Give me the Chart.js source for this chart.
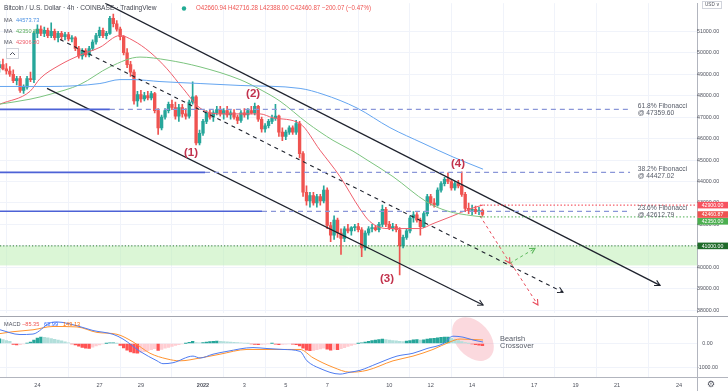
<!DOCTYPE html>
<html><head><meta charset="utf-8">
<script src="https://cdn.jsdelivr.net/npm/chart.js"></script>
<style>
html,body{margin:0;padding:0;background:#fff;overflow:hidden}
#wrap{position:relative;width:728px;height:391px;background:#fff}
#main{position:absolute;left:0;top:0}
#macd{position:absolute;left:0;top:316px}
</style></head><body>
<div id="wrap"><canvas id="main" width="728" height="316"></canvas><canvas id="macd" width="728" height="75"></canvas></div>
<script>
// ---------- DATA ----------
// x values are days from 2022-01-01 00:00 (UTC); first 4h candle is 22 Dec 2021 04:00
const dayTicks = [-8,-5,-3,0,2,4,6,9,11,13,16,18,20,23];
const dayLabels = ['24','27','29','2022','3','5','7','10','12','14','17','19','21','24'];
const priceTicks = [38000,39000,40000,41000,42000,43000,44000,45000,46000,47000,48000,49000,50000,51000];
const macdTicks = [0,-1000];
const firstCandleDay = -9.8333;
const candleStepDays = 4/24;
// [open, high, low, close]
const ohlc = [
[49300,49600,49100,49450],[49450,49700,49200,49250],[49250,49500,49000,49150],[49150,49350,48900,49000],
[49000,49200,48600,48700],[48700,48900,48500,48800],[48800,48900,48150,48250],[48250,48500,48100,48400],
[48400,48900,48300,48800],[48800,49100,48650,48750],[48750,51000,48600,50900],[50900,51300,50700,51100],
[51100,51250,50800,50900],[50900,51200,50750,51050],[51050,51150,50700,50800],[50800,51400,50700,51000],
[51000,51100,50600,50700],[50700,51000,50500,50900],[50900,51000,50600,50750],[50750,50950,50600,50850],
[50850,50950,50550,50650],[50650,50800,50500,50700],[50700,50750,50100,50200],[50200,50300,49750,49850],
[49850,50200,49700,50100],[50100,50200,49800,49900],[49900,50300,49800,50200],[50200,50600,50100,50500],
[50500,50900,50400,50800],[50800,51200,50700,51050],[51050,51150,50700,50800],[50800,51000,50650,50900],
[50900,51700,50850,51600],[51600,51800,51200,51350],[51350,51500,51000,51100],[51100,51200,50600,50750],
[50750,50800,49900,50000],[50000,50200,49300,49450],[49450,49600,48900,49100],[49100,49200,47600,47750],
[47750,48200,47500,48050],[48050,48250,47700,47850],[47850,48150,47750,48000],[48000,48200,47800,47900],
[47900,48200,47800,48100],[48100,48150,47200,47300],[47300,47400,46200,46500],[46500,47100,46400,47000],
[47000,47400,46900,47300],[47300,47700,47200,47600],[47600,47800,47350,47450],[47450,47700,46900,47050],
[47050,47600,46800,47450],[47450,47600,47000,47150],[47150,47400,46900,47050],[47050,47800,46950,47700],
[47700,48650,47600,47950],[47950,48000,45700,45800],[45800,46400,45700,46250],[46250,46900,46150,46800],
[46800,47300,46700,47200],[47200,47350,46900,47000],[47000,47300,46800,47200],[47200,47500,47100,47350],
[47350,47500,47050,47150],[47150,47400,46900,47300],[47300,47500,47000,47100],[47100,47300,46900,47200],
[47200,47350,46900,47000],[47000,47100,46700,46850],[46850,47300,46750,47200],[47200,47400,47000,47100],
[47100,47400,46900,47300],[47300,47500,47150,47200],[47200,47650,47100,47500],[47500,47550,46800,46900],
[46900,47000,46300,46450],[46450,46700,46300,46600],[46600,46900,46500,46800],[46800,47100,46700,46950],
[46950,47600,46850,47050],[47050,47100,46100,46300],[46300,46500,45900,46100],[46100,46400,45950,46300],
[46300,46600,46200,46500],[46500,46600,46200,46300],[46300,46850,46200,46700],[46700,46800,45100,45300],
[45300,45400,43300,43500],[43500,43800,42900,43100],[43100,43500,42800,43350],[43350,43500,42900,43000],
[43000,43400,42800,43300],[43300,43400,42900,43100],[43100,43800,43000,43600],[43600,43700,41800,41950],
[41950,42100,41200,41500],[41500,42400,41300,42200],[42200,42300,41400,41600],[41600,41800,40600,41350],
[41350,41900,41200,41800],[41800,42000,41600,41700],[41700,41900,41500,41850],[41850,42000,41700,41900],
[41900,42050,41650,41750],[41750,41850,40500,40900],[40900,41700,40800,41600],[41600,41900,41500,41800],
[41800,42000,41650,41850],[41850,41950,41700,41750],[41750,42100,41650,42000],[42000,42900,41900,42700],
[42700,42800,41900,42000],[42000,42150,41750,41850],[41850,42050,41700,41900],[41900,42000,41650,41750],
[41750,41850,39650,41000],[41000,41500,40900,41400],[41400,41800,41300,41700],[41700,42400,41600,42300],
[42300,42600,42100,42450],[42450,42550,42100,42200],[42200,42300,41500,41900],[41900,42600,41850,42500],
[42500,43400,42400,43300],[43300,43400,42900,43000],[43000,43200,42800,42900],[42900,43700,42850,43600],
[43600,44000,43500,43900],[43900,44200,43800,44100],[44100,44400,43900,44000],[44000,44100,43600,43700],
[43700,44000,43600,43900],[43900,44050,43700,43800],[43800,44450,43300,43400],[43400,43500,42600,42750],
[42750,43000,42500,42650],[42650,42900,42450,42700],[42700,42850,42500,42600],[42600,42800,42450,42660.94],
[42660.94,42716.28,42388.00,42460.87]
];
// moving averages [day, price]
const maBlue = [[-9.807,48429],[-7.39,48429],[-4.98,48566],[-4.01,48749],[-3.38,48749],[-2.08,48658],[-0.14,48566],[1.79,48475],[4.69,48338],[5.80,48064],[7.44,47425],[9.03,46511],[10.63,45781],[12.08,45142],[13.53,44573.73]];
const maGreen = [[-9.807,47607],[-8.357,47836],[-7.391,48064],[-5.942,48521],[-4.493,49342],[-3.043,49799],[-1.739,49662],[-0.145,49342],[1.787,48749],[2.754,48292],[3.720,47744],[5.024,46740],[6.280,45918],[7.246,45416],[7.923,45005],[9.179,44228],[10.821,43041],[11.787,42630],[13.043,42402],[13.53,42350.87]];
const maRed = [[-9.807,47607],[-8.357,48201],[-7.874,48795],[-6.908,49434],[-5.942,49890],[-4.976,50256],[-4.010,50804],[-3.382,50575],[-2.560,50027],[-1.739,49251],[-0.966,48338],[-0.145,47425],[0.821,47151],[1.787,47151],[2.754,47151],[3.382,46968],[4.686,46694],[5.652,45461],[6.618,44228],[7.585,42722],[8.068,42128],[8.889,41808],[9.855,41808],[10.483,41808],[11.111,42037],[12.077,42402],[12.899,42722],[13.53,42906.30]];
const maValues = [44573.73, 42350.87, 42906.30];
// drawings [day, price]
const upperChannel = [[-4.73,52310],[22.08,39160]];
const lowerChannel = [[-7.536,48338],[13.53,38247]];
const midChannel = [[-6.908,50621],[17.39,38840]];
const projDown1 = [[13.38,42402],[14.83,40192]];
const projUp = [[14.83,40192],[16.04,40886]];
const projDown2 = [[14.88,40192],[16.18,38247]];
const fibPrices = [47359.60, 44427.02, 42612.79];
const fibNames = ['61.8% Fibonacci','38.2% Fibonacci','23.6% Fibonacci'];
const fibSolidEnd = [-4.5, 0.1, 2.85];
const fibDashEnd = 20.63;
const fibLabelDay = 21.0;
const supportZone = [40090, 41000];
const resistLevel = 42900, ma50Level = 42350, supportLevel = 41000;
const dottedFrom = 13.38;
const waveLabels = ['(1)','(2)','(3)','(4)'];
const waveX = [-0.58, 2.42, 8.89, 12.32];
const waveY = [45324, 48087, 39479, 44845];
const tagPrices = [42900, 42460.87, 42350, 41000];
const tagTexts = ['42900.00','42460.87','42350.00','41000.00'];
const tagColors = ['#f7525f','#ef5350','#4caf50','#1f6b2a'];
// MACD [day, value]
const macdLine = [[-9.807,580],[-8.841,380],[-8.213,400],[-7.391,870],[-7.053,910],[-6.087,750],[-5.314,550],[-4.348,390],[-3.865,190],[-3.043,-330],[-2.222,-730],[-1.932,-850],[-1.449,-810],[-0.483,-530],[-0.145,-610],[0.483,-450],[1.159,-330],[2.415,-170],[3.092,-210],[3.865,-250],[4.686,-330],[5.024,-730],[5.652,-1050],[6.618,-1290],[7.101,-1210],[7.585,-1130],[8.406,-850],[9.372,-530],[10.145,-410],[10.821,-210],[11.594,-10],[12.077,310],[12.560,270],[13.043,150],[13.53,63.99]];
const signalLine = [[-9.807,420],[-9.179,500],[-8.213,580],[-7.246,720],[-6.087,700],[-5.121,470],[-4.155,390],[-3.382,70],[-2.560,-410],[-1.739,-650],[-1.111,-730],[-0.145,-610],[0.821,-450],[2.126,-250],[3.092,-250],[4.686,-250],[5.314,-600],[6.280,-1000],[7.101,-1210],[7.923,-1130],[9.179,-730],[10.145,-530],[11.111,-250],[11.932,70],[12.415,190],[13.53,149.13]];
const macdHist = [200,170,130,90,-40,-60,-50,-20,20,60,150,230,270,260,240,210,180,150,110,70,30,-20,-60,-110,-160,-200,-210,-150,-100,-60,-20,5,25,30,10,-80,-180,-280,-350,-400,-410,-380,-340,-300,-260,-220,-290,-250,-200,-160,-120,-80,-50,-20,5,50,90,40,30,45,60,80,90,100,90,80,70,60,50,40,30,20,5,-20,-40,-50,-40,-30,-10,10,-30,-50,-40,-30,-20,-30,-50,-100,-200,-280,-300,-290,-260,-230,-200,-240,-280,-250,-260,-220,-170,-120,-80,-40,10,30,60,90,120,150,170,190,170,150,130,110,90,80,100,130,160,170,150,160,190,210,220,240,260,270,270,230,180,130,80,40,10,-20,-45,-65,-85.35];
const macdLegend = [-85.35, 63.99, 149.13];

// ---------- LAYOUT / STYLE ----------
const FONT = "'Liberation Sans', Arial, sans-serif";
const X_MIN = -9.807, X_MAX = 23.865;
const P_MIN = 37881, P_MAX = 52310;
const M_MIN = -1412, M_MAX = 1028;
const UP = '#26a69a', DOWN = '#ef5350';
const GRID = '#f0f3fa', AXIS = '#b2b5be', TXT = '#50535e';

const candleX = ohlc.map((c,i) => firstCandleDay + i*candleStepDays);
const candleColor = ohlc.map(c => c[3] >= c[0] ? UP : DOWN);
const pt = a => a.map(p => ({x:p[0], y:p[1]}));
const seg = (a, color, w, dash, extra) => Object.assign({type:'line', data:pt(a), borderColor:color, borderWidth:w, borderDash:dash||[], pointRadius:0, fill:false, tension:0, order:1}, extra||{});
const maDs = (a, color) => ({type:'line', data:pt(a), borderColor:color, borderWidth:1, pointRadius:0, fill:false, cubicInterpolationMode:'monotone', order:5});

function drawArrow(ctx, x0, y0, x1, y1, color, len, width){
  const ang = Math.atan2(y1-y0, x1-x0);
  ctx.save(); ctx.setLineDash([]); ctx.strokeStyle = color; ctx.lineWidth = width;
  ctx.beginPath();
  ctx.moveTo(x1 - len*Math.cos(ang-0.5), y1 - len*Math.sin(ang-0.5));
  ctx.lineTo(x1, y1);
  ctx.lineTo(x1 - len*Math.cos(ang+0.5), y1 - len*Math.sin(ang+0.5));
  ctx.stroke(); ctx.restore();
}

const datasets = [
  {type:'bar', data: ohlc.map((c,i)=>({x:candleX[i], y:[c[2], c[1]]})), backgroundColor:candleColor, barThickness:1, grouped:false, order:11},
  {type:'bar', data: ohlc.map((c,i)=>({x:candleX[i], y:[Math.min(c[0],c[3]), Math.max(c[0],c[3])]})), backgroundColor:candleColor, barThickness:2.7, grouped:false, order:10},
  maDs(maBlue, '#64a5f0'),
  maDs(maGreen, '#7cc47f'),
  maDs(maRed, '#ef5f6c')
];
fibPrices.forEach((p,i) => {
  datasets.push(seg([[X_MIN,p],[fibSolidEnd[i],p]], '#4d62d6', 1.6));
  datasets.push(seg([[fibSolidEnd[i],p],[fibDashEnd,p]], '#8a96d8', 1.2, [5,4]));
});
datasets.push(seg([[dottedFrom,resistLevel],[X_MAX,resistLevel]], '#f23645', 1, [1.5,2]));
datasets.push(seg([[dottedFrom,ma50Level],[X_MAX,ma50Level]], '#4caf50', 1, [1.5,2]));
datasets.push(seg([[X_MIN,supportLevel],[X_MAX,supportLevel]], '#2e7d32', 1, [1.2,2]));
datasets.push(seg(upperChannel, '#1e222d', 1.3, [], {arrow:true}));
datasets.push(seg(lowerChannel, '#1e222d', 1.3, [], {arrow:true}));
datasets.push(seg(midChannel, '#1e222d', 1.1, [4,4], {arrow:true}));
datasets.push(seg(projDown1, '#e84a5a', 1, [3,3], {arrow:true}));
datasets.push(seg(projUp, '#5cb85c', 1, [3,3], {arrow:true}));
datasets.push(seg(projDown2, '#e84a5a', 1, [3,3], {arrow:true}));

const mainPlugin = {
  id:'mainDecor',
  beforeDatasetsDraw(chart){
    const {ctx, chartArea:a, scales:{y}} = chart;
    const yt = y.getPixelForValue(supportZone[1]), yb = y.getPixelForValue(supportZone[0]);
    ctx.save(); ctx.fillStyle = 'rgba(190,238,180,0.55)';
    ctx.fillRect(a.left, yt, a.right-a.left, yb-yt); ctx.restore();
  },
  afterDatasetsDraw(chart){
    const {ctx, scales:{x,y}} = chart;
    chart.data.datasets.forEach((ds,i) => {
      if (!ds.arrow) return;
      const pts = chart.getDatasetMeta(i).data;
      const A = pts[pts.length-2], B = pts[pts.length-1];
      drawArrow(ctx, A.x, A.y, B.x, B.y, ds.borderColor, 6, 1.1);
    });
    ctx.save();
    ctx.font = `bold 11.5px ${FONT}`; ctx.fillStyle = '#c2334d'; ctx.textAlign = 'center'; ctx.textBaseline = 'middle';
    waveLabels.forEach((t,i) => ctx.fillText(t, x.getPixelForValue(waveX[i]), y.getPixelForValue(waveY[i])));
    ctx.font = `6.7px ${FONT}`; ctx.fillStyle = '#555a66'; ctx.textAlign = 'left';
    fibPrices.forEach((p,i) => {
      const py = y.getPixelForValue(p), px = x.getPixelForValue(fibLabelDay);
      ctx.fillText(fibNames[i], px, py-3.2);
      ctx.fillText('@ ' + p.toFixed(2), px, py+3.6);
    });
    ctx.restore();
  },
  afterDraw(chart){
    const {ctx, scales:{y}} = chart;
    ctx.save();
    ctx.textBaseline = 'middle'; ctx.textAlign = 'left';
    ctx.font = `6.6px ${FONT}`; ctx.fillStyle = '#434651';
    ctx.fillText('Bitcoin / U.S. Dollar · 4h · COINBASE · TradingView', 4, 8.5, 170);
    ctx.fillStyle = '#22ab94'; ctx.beginPath(); ctx.arc(184, 8.5, 2.2, 0, Math.PI*2); ctx.fill();
    const L = ohlc[ohlc.length-1], prevC = ohlc[ohlc.length-2][3];
    const ch = L[3]-prevC, pct = ch/prevC*100;
    const ohlcTxt = 'O'+L[0].toFixed(2)+' H'+L[1].toFixed(2)+' L'+L[2].toFixed(2)+' C'+L[3].toFixed(2)+' '+(ch<0?'−':'+')+Math.abs(ch).toFixed(2)+' ('+(pct<0?'−':'+')+Math.abs(pct).toFixed(2)+'%)';
    ctx.fillStyle = '#ef5350'; ctx.fillText(ohlcTxt, 196, 8.5, 175);
    const maCols = ['#4a90e2','#5cae5f','#ef5f6c'], maYs = [20, 31, 42.5];
    ctx.font = `5.6px ${FONT}`;
    maValues.forEach((v,i) => {
      ctx.fillStyle = TXT; ctx.fillText('MA', 4, maYs[i]);
      ctx.fillStyle = maCols[i]; ctx.fillText(v.toFixed(2), 16, maYs[i]);
    });
    ctx.strokeStyle = '#d1d4dc'; ctx.lineWidth = 1;
    ctx.strokeRect(6.5, 48.5, 12, 10);
    ctx.strokeStyle = '#50535e'; ctx.beginPath(); ctx.moveTo(10, 55); ctx.lineTo(12.5, 52.5); ctx.lineTo(15, 55); ctx.stroke();
    ctx.strokeStyle = '#d1d4dc'; ctx.strokeRect(702.5, 1.5, 19, 7);
    ctx.font = `4.6px ${FONT}`; ctx.fillStyle = TXT; ctx.fillText('USD ∨', 705, 5.2);
    let prev = -100;
    ctx.font = `5.2px ${FONT}`; ctx.textAlign = 'center';
    tagPrices.forEach((p,i) => {
      let py = y.getPixelForValue(p);
      if (py < prev + 6.8) py = prev + 6.8;
      prev = py;
      ctx.fillStyle = tagColors[i]; ctx.fillRect(697.5, py-3.3, 30.5, 6.6);
      ctx.fillStyle = '#ffffff'; ctx.fillText(tagTexts[i], 712.5, py+0.3);
    });
    ctx.restore();
  }
};

new Chart(document.getElementById('main'), {
  type:'bar',
  data:{datasets},
  options:{
    responsive:false, maintainAspectRatio:false, animation:false, events:[], devicePixelRatio:1,
    layout:{padding:0},
    plugins:{legend:{display:false}, tooltip:{enabled:false}},
    scales:{
      x:{type:'linear', min:X_MIN, max:X_MAX, offset:false,
         afterBuildTicks:s=>{s.ticks = dayTicks.map(v=>({value:v}));},
         ticks:{display:false}, grid:{color:GRID, drawTicks:false}, border:{display:false},
         afterFit:s=>{s.height = 0;}},
      y:{position:'right', min:P_MIN, max:P_MAX,
         afterBuildTicks:s=>{s.ticks = priceTicks.map(v=>({value:v}));},
         ticks:{callback:v=>Number(v).toFixed(2), font:{size:5.3, family:FONT}, color:TXT, crossAlign:'center', padding:0},
         grid:{color:GRID, drawTicks:false}, border:{color:AXIS},
         afterFit:s=>{s.width = 31;}}
    }
  },
  plugins:[mainPlugin]
});

// ---------- MACD ----------
const histColors = macdHist.map((v,i) => {
  const pv = i ? macdHist[i-1] : v;
  if (v >= 0) return v >= pv ? '#26a69a' : '#b2dfdb';
  return v < pv ? '#ff5252' : '#ffcdd2';
});
const macdPlugin = {
  id:'macdDecor',
  beforeDatasetsDraw(chart){
    const {ctx, scales:{x,y}} = chart;
    ctx.save();
    ctx.fillStyle = 'rgba(242,120,135,0.28)';
    ctx.beginPath();
    ctx.ellipse(x.getPixelForValue(13.04), y.getPixelForValue(190), 25, 17, 0.85, 0, Math.PI*2);
    ctx.fill(); ctx.restore();
  },
  afterDraw(chart){
    const {ctx, scales:{x,y}} = chart;
    ctx.save();
    ctx.strokeStyle = '#a3a6af'; ctx.lineWidth = 1;
    ctx.beginPath(); ctx.moveTo(0, 0.5); ctx.lineTo(728, 0.5); ctx.stroke();
    ctx.strokeStyle = AXIS;
    ctx.beginPath(); ctx.moveTo(0, 61.5); ctx.lineTo(728, 61.5); ctx.stroke();
    ctx.beginPath(); ctx.moveTo(697.5, 0); ctx.lineTo(697.5, 75); ctx.stroke();
    ctx.textBaseline = 'middle'; ctx.textAlign = 'left';
    ctx.font = `5.6px ${FONT}`;
    ctx.fillStyle = TXT; ctx.fillText('MACD', 4, 8);
    ctx.fillStyle = '#ef5350'; ctx.fillText((macdLegend[0]<0?'−':'')+Math.abs(macdLegend[0]).toFixed(2), 22, 8);
    ctx.fillStyle = '#2962ff'; ctx.fillText(macdLegend[1].toFixed(2), 44, 8);
    ctx.fillStyle = '#ff6d00'; ctx.fillText(macdLegend[2].toFixed(2), 63, 8);
    ctx.font = `7.4px ${FONT}`; ctx.fillStyle = '#555a66';
    const bx = x.getPixelForValue(14.35);
    ctx.fillText('Bearish', bx, 23);
    ctx.fillText('Crossover', bx, 30);
    ctx.font = `9px 'DejaVu Sans', sans-serif`; ctx.fillStyle = TXT; ctx.textAlign = 'center';
    ctx.fillText('⚙', 711, 68.5);
    ctx.restore();
  }
};

new Chart(document.getElementById('macd'), {
  type:'bar',
  data:{datasets:[
    {type:'line', data:pt(macdLine), borderColor:'#4f7cf0', borderWidth:1, pointRadius:0, fill:false, cubicInterpolationMode:'monotone', order:1},
    {type:'line', data:pt(signalLine), borderColor:'#ff9330', borderWidth:1, pointRadius:0, fill:false, cubicInterpolationMode:'monotone', order:2},
    {type:'bar', data:macdHist.map((v,i)=>({x:candleX[i], y:v})), backgroundColor:histColors, barThickness:2.7, grouped:false, order:5}
  ]},
  options:{
    responsive:false, maintainAspectRatio:false, animation:false, events:[], devicePixelRatio:1,
    layout:{padding:0},
    plugins:{legend:{display:false}, tooltip:{enabled:false}},
    scales:{
      x:{type:'linear', min:X_MIN, max:X_MAX, offset:false,
         afterBuildTicks:s=>{s.ticks = dayTicks.map(v=>({value:v}));},
         ticks:{callback:v=>dayLabels[dayTicks.indexOf(v)], color:TXT, padding:5, maxRotation:0, autoSkip:false,
                font:c=>({size:5.6, family:FONT, weight:(c.tick && c.tick.value===0) ? 'bold' : 'normal'})},
         grid:{color:GRID, drawTicks:false}, border:{color:AXIS},
         afterFit:s=>{s.height = 14;}},
      y:{position:'right', min:M_MIN, max:M_MAX,
         afterBuildTicks:s=>{s.ticks = macdTicks.map(v=>({value:v}));},
         ticks:{callback:v=>Number(v).toFixed(2), font:{size:5.3, family:FONT}, color:TXT, crossAlign:'center', padding:0},
         grid:{color:GRID, drawTicks:false}, border:{color:AXIS},
         afterFit:s=>{s.width = 31;}}
    }
  },
  plugins:[macdPlugin]
});
</script>
</body></html>
